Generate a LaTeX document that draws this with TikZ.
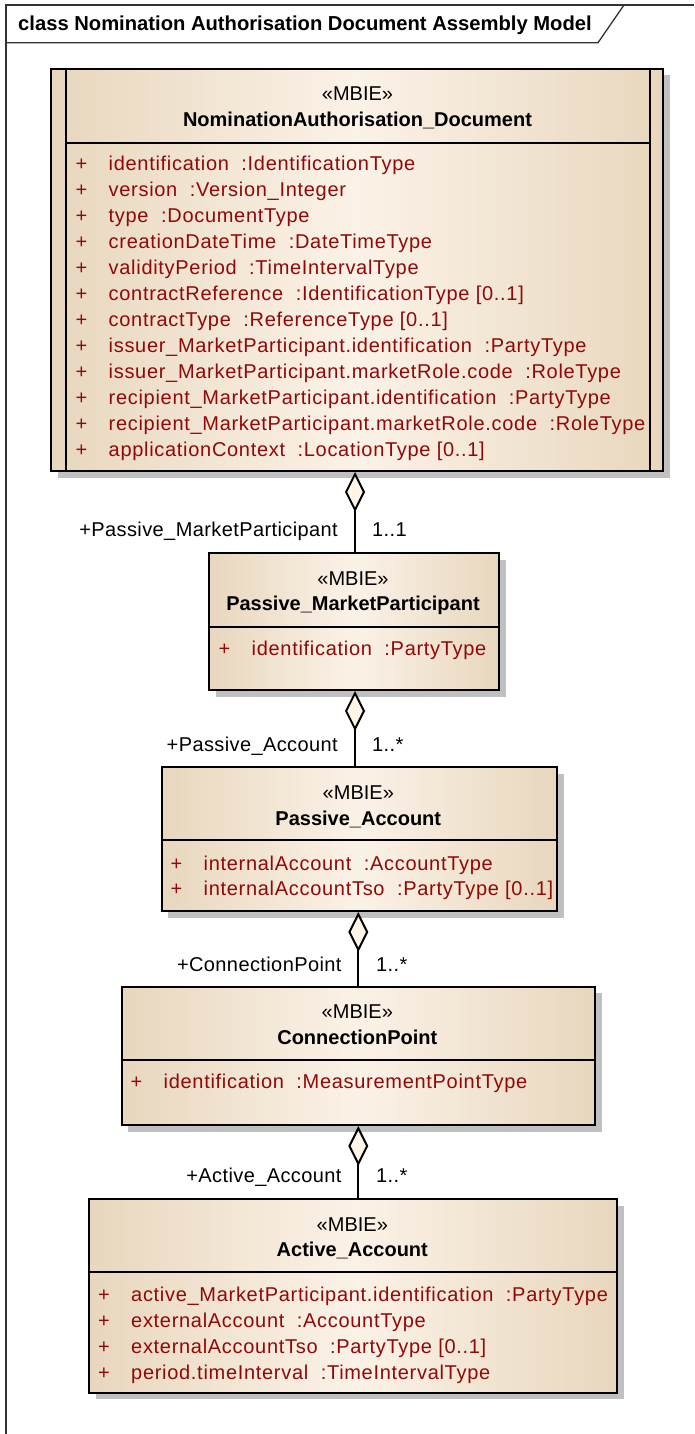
\documentclass[tikz,border=0pt]{standalone}
\usepackage{fontspec}
\setmainfont{Liberation Sans}
\newfontfamily\attrfont{Liberation Sans}[LetterSpace=3.5]
\newfontfamily\lblfont{Liberation Sans}[LetterSpace=2.0]
\usetikzlibrary{arrows.meta,shadows}
\definecolor{tanedge}{RGB}{232,215,190}
\definecolor{tanmid}{RGB}{251,242,231}
\definecolor{shadowgray}{RGB}{192,192,192}
\definecolor{attrred}{RGB}{145,8,8}
\definecolor{diamondfill}{RGB}{255,246,232}
\tikzset{
  classbox/.style={draw=black, line width=2pt, rectangle, inner sep=0pt, anchor=north west,
    left color=tanedge, right color=tanedge, middle color=tanmid,
    drop shadow={shadow xshift=6.5pt, shadow yshift=-6.5pt, fill=shadowgray, opacity=1}},
  sepline/.style={line width=2pt},
  frameline/.style={line width=1.3pt, draw=black!80},
  title/.style={anchor=base west, inner sep=0pt, font=\fontsize{20.2}{24}\selectfont\bfseries},
  stereo/.style={anchor=base, inner sep=0pt, font=\fontsize{20}{24}\selectfont},
  cname/.style={anchor=base, inner sep=0pt, font=\fontsize{20}{24}\selectfont\bfseries},
  plus/.style={anchor=base west, inner sep=0pt, text=attrred, font=\fontsize{20}{24}\selectfont},
  attr/.style={anchor=base west, inner sep=0pt, text=attrred, font=\fontsize{20}{24}\attrfont},
  role/.style={anchor=base east, inner sep=0pt, font=\fontsize{20}{24}\lblfont},
  mult/.style={anchor=base west, inner sep=0pt, font=\fontsize{20}{24}\lblfont},
  agg/.style={line width=2pt, -{Diamond[length=40pt, width=20pt, open, fill=diamondfill, line width=2pt]}}
}
\begin{document}
\begin{tikzpicture}[x=1pt, y=-1pt]
\useasboundingbox (0,0) rectangle (694,1434);
% frame
\draw[frameline] (6,1434) -- (6,5) -- (694,5);
\draw[frameline] (6,42.7) -- (598,42.7) -- (624,5);
\node[title] (title) at (18,30.5) {class Nomination Authorisation Document Assembly Model};

% main document class
\node[classbox, minimum width=612pt, minimum height=402pt] (doc) at (50,68) {};
\draw[sepline] (65.5,68) -- (65.5,472);
\draw[sepline] (649.5,68) -- (649.5,472);
\draw[sepline] (65.5,142.7) -- (649.5,142.7);
\node[stereo] (doc-st) at (357.5,100.7) {«MBIE»};
\node[cname] (doc-nm) at (357.5,126.7) {NominationAuthorisation\_Document};
\foreach \i/\t in {0/identification~~:IdentificationType,
                   1/version~~:Version\_Integer,
                   2/type~~:DocumentType,
                   3/creationDateTime~~:DateTimeType,
                   4/validityPeriod~~:TimeIntervalType,
                   5/contractReference~~:IdentificationType [0..1],
                   6/contractType~~:ReferenceType [0..1],
                   7/issuer\_MarketParticipant.identification~~:PartyType,
                   8/issuer\_MarketParticipant.marketRole.code~~:RoleType,
                   9/recipient\_MarketParticipant.identification~~:PartyType,
                   10/recipient\_MarketParticipant.marketRole.code~~:RoleType,
                   11/applicationContext~~:LocationType [0..1]} {
  \node[plus] (doc-p\i) at (75.5,170.7+26*\i) {+};
  \node[attr] (doc-a\i) at (108.5,170.7+26*\i) {\t};
}

% Passive_MarketParticipant
\node[classbox, minimum width=290pt, minimum height=137pt] (pmp) at (208,552) {};
\draw[sepline] (208,626.7) -- (498,626.7);
\node[stereo] (pmp-st) at (353,585) {«MBIE»};
\node[cname] (pmp-nm) at (353,610.5) {Passive\_MarketParticipant};
\node[plus] (pmp-p0) at (218.5,655) {+};
\node[attr] (pmp-a0) at (251.5,655) {identification~~:PartyType};

% Passive_Account
\node[classbox, minimum width=395.3pt, minimum height=144pt] (pa) at (160.7,766) {};
\draw[sepline] (160.7,840) -- (556,840);
\node[stereo] (pa-st) at (358.3,799) {«MBIE»};
\node[cname] (pa-nm) at (358.3,825) {Passive\_Account};
\node[plus] (pa-p0) at (170.5,870) {+};
\node[attr] (pa-a0) at (203.5,870) {internalAccount~~:AccountType};
\node[plus] (pa-p1) at (170.5,895.5) {+};
\node[attr] (pa-a1) at (203.5,895.5) {internalAccountTso~~:PartyType [0..1]};

% ConnectionPoint
\node[classbox, minimum width=473.3pt, minimum height=138.3pt] (cp) at (120.7,985.7) {};
\draw[sepline] (120.7,1060) -- (594,1060);
\node[stereo] (cp-st) at (357.3,1018) {«MBIE»};
\node[cname] (cp-nm) at (357.3,1044) {ConnectionPoint};
\node[plus] (cp-p0) at (130.5,1088.5) {+};
\node[attr] (cp-a0) at (163.5,1088.5) {identification~~:MeasurementPointType};

% Active_Account
\node[classbox, minimum width=528pt, minimum height=193.4pt] (aa) at (88.3,1198.3) {};
\draw[sepline] (88.3,1271.7) -- (616.3,1271.7);
\node[stereo] (aa-st) at (352.3,1231) {«MBIE»};
\node[cname] (aa-nm) at (352.3,1256.7) {Active\_Account};
\foreach \i/\t in {0/active\_MarketParticipant.identification~~:PartyType,
                   1/externalAccount~~:AccountType,
                   2/externalAccountTso~~:PartyType [0..1],
                   3/period.timeInterval~~:TimeIntervalType} {
  \node[plus] (aa-p\i) at (98,1301+26*\i) {+};
  \node[attr] (aa-a\i) at (131,1301+26*\i) {\t};
}

% connectors
\coordinate (c1) at (355,0);
\coordinate (c2) at (355,0);
\coordinate (c3) at (358.3,0);
\coordinate (c4) at (358.3,0);
\draw[agg] (pmp.north -| c1) -- (doc.south -| c1);
\draw[agg] (pa.north -| c2) -- (pmp.south -| c2);
\draw[agg] (cp.north -| c3) -- (pa.south -| c3);
\draw[agg] (aa.north -| c4) -- (cp.south -| c4);

% labels
\node[role] (r1) at (338,536.7) {+Passive\_MarketParticipant};
\node[mult] (m1) at (372,536.7) {1..1};
\node[role] (r2) at (338,751) {+Passive\_Account};
\node[mult] (m2) at (372,751) {1..*};
\node[role] (r3) at (341.7,971) {+ConnectionPoint};
\node[mult] (m3) at (376,971) {1..*};
\node[role] (r4) at (341.7,1182.7) {+Active\_Account};
\node[mult] (m4) at (376,1182.7) {1..*};
\end{tikzpicture}
\end{document}
